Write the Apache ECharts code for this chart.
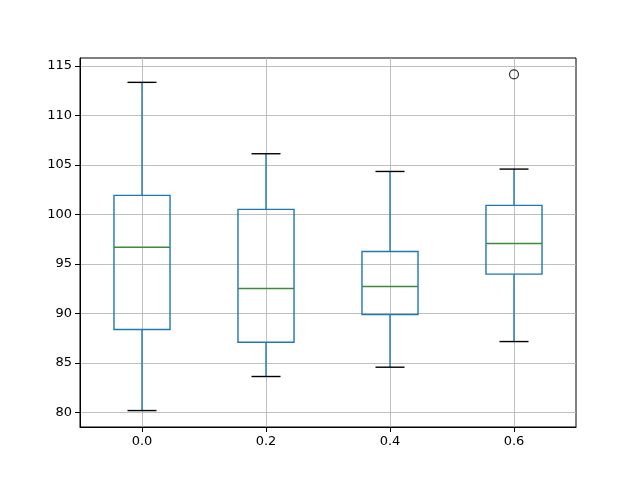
<!DOCTYPE html>
<html>
<head>
<meta charset="utf-8">
<script src="https://cdn.jsdelivr.net/npm/echarts@6/dist/echarts.min.js"></script>
<style>
  html, body { margin: 0; padding: 0; background: #fff; }
  #chart { width: 640px; height: 480px; }
</style>
</head>
<body>
<div id="chart"></div>
<script>
// box positions and five-number summaries
var positions = [0.0, 0.2, 0.4, 0.6];
var whiskerLow = [80.2, 83.64, 84.58, 87.17];
var q1 = [88.39, 87.1, 89.9, 93.98];
var median = [96.7, 92.53, 92.73, 97.08];
var q3 = [101.93, 100.52, 96.27, 100.92];
var whiskerHigh = [113.35, 106.14, 104.35, 104.59];
var outliers = [[0.6, 114.16]];
var xTicks = [0.0, 0.2, 0.4, 0.6];
var yTicks = [80, 85, 90, 95, 100, 105, 110, 115];

var chart = echarts.init(document.getElementById('chart'), null, { renderer: 'canvas' });

var BOX_HALF = 0.0452;  // in x units
var CAP_HALF = 0.0234;

var boxData = positions.map(function (p, i) {
  return [p, whiskerLow[i], q1[i], median[i], q3[i], whiskerHigh[i]];
});

function renderBox(params, api) {
  var x = api.value(0);
  var lo = api.coord([x, api.value(1)]);
  var b1 = api.coord([x, api.value(2)]);
  var md = api.coord([x, api.value(3)]);
  var b3 = api.coord([x, api.value(4)]);
  var hi = api.coord([x, api.value(5)]);
  var left = api.coord([x - BOX_HALF, 0])[0];
  var right = api.coord([x + BOX_HALF, 0])[0];
  var cl = api.coord([x - CAP_HALF, 0])[0];
  var cr = api.coord([x + CAP_HALF, 0])[0];
  var blue = { stroke: '#1f77b4', lineWidth: 1.4, fill: null };
  var black = { stroke: '#000', lineWidth: 1.4 };
  return {
    type: 'group',
    children: [
      { type: 'line', shape: { x1: lo[0], y1: lo[1], x2: b1[0], y2: b1[1] }, style: blue },
      { type: 'line', shape: { x1: b3[0], y1: b3[1], x2: hi[0], y2: hi[1] }, style: blue },
      { type: 'rect', shape: { x: left, y: b3[1], width: right - left, height: b1[1] - b3[1] }, style: blue },
      { type: 'line', shape: { x1: left, y1: md[1], x2: right, y2: md[1] }, style: { stroke: '#3d8a3d', lineWidth: 1.4 } },
      { type: 'line', shape: { x1: cl, y1: lo[1], x2: cr, y2: lo[1] }, style: black },
      { type: 'line', shape: { x1: cl, y1: hi[1], x2: cr, y2: hi[1] }, style: black }
    ]
  };
}

var font = { fontFamily: 'DejaVu Sans', fontSize: 13, color: '#000' };

chart.setOption({
  animation: false,
  backgroundColor: '#fff',
  grid: { left: 80, right: 64, top: 58, bottom: 53, show: true, borderColor: '#000', borderWidth: 1, backgroundColor: 'transparent' },
  xAxis: {
    type: 'value',
    min: -0.1,
    max: 0.7,
    axisLine: { show: true, onZero: false, lineStyle: { color: '#000' } },
    axisTick: { show: true, length: 5, customValues: xTicks, lineStyle: { color: '#000' } },
    axisLabel: Object.assign({ customValues: xTicks, margin: 8, formatter: function (v) { return v.toFixed(1); } }, font),
    splitLine: { show: true, lineStyle: { color: '#b0b0b0', width: 0.8 } }
  },
  yAxis: {
    type: 'value',
    min: 78.54,
    max: 115.81,
    axisLine: { show: true, onZero: false, lineStyle: { color: '#000' } },
    axisTick: { show: true, length: 5, customValues: yTicks, lineStyle: { color: '#000' } },
    axisLabel: Object.assign({ customValues: yTicks, margin: 8 }, font),
    splitLine: { show: true, lineStyle: { color: '#b0b0b0', width: 0.8 } }
  },
  series: [
    {
      type: 'custom',
      renderItem: renderBox,
      encode: { x: 0, y: [1, 2, 3, 4, 5] },
      data: boxData,
      z: 3
    },
    {
      type: 'scatter',
      data: outliers,
      symbol: 'circle',
      symbolSize: 9,
      itemStyle: { color: 'transparent', borderColor: '#000', borderWidth: 1.2 },
      z: 4
    }
  ]
});
</script>
</body>
</html>
